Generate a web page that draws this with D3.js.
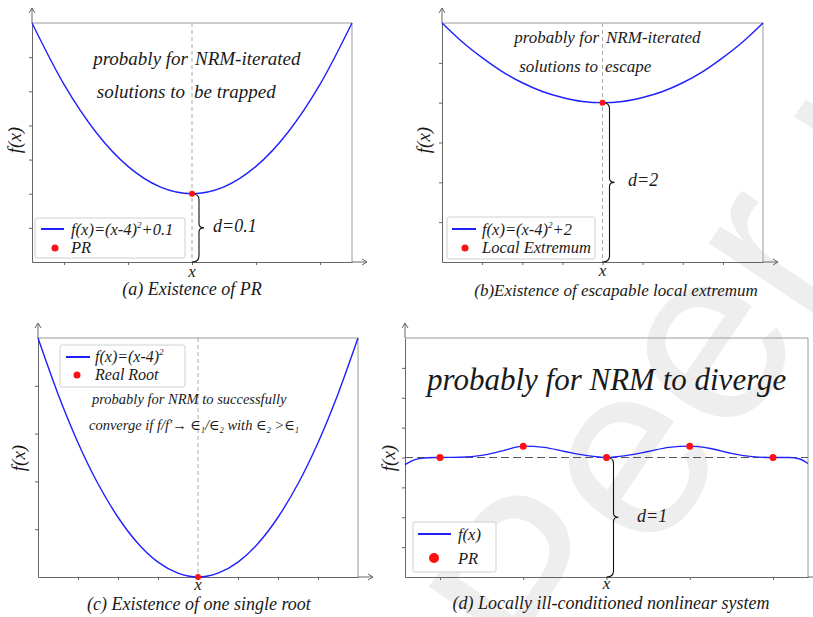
<!DOCTYPE html>
<html>
<head>
<meta charset="utf-8">
<script src="https://cdn.jsdelivr.net/npm/d3@7"></script>
<style>
  body { margin: 0; background: #fff; }
  svg { display: block; }
  text { font-family: "Liberation Serif", "DejaVu Serif", serif; font-style: italic; fill: #1a1a1a; }
</style>
</head>
<body>
<div id="chart"></div>
<script>
// ---- data (y in axis units) ----
const xA = [1.5, 2, 2.5, 3, 3.5, 4, 4.5, 5, 5.5, 6, 6.5];
const yA = [7, 5.2, 3.8, 2.8, 2.2, 2, 2.2, 2.8, 3.8, 5.2, 7];
const xB = [0, 0.5, 1, 1.5, 2, 2.5, 3, 3.5, 4, 4.5, 5, 5.5, 6, 6.5, 7, 7.5, 8];
const yB = [6, 5.53, 5.13, 4.78, 4.5, 4.28, 4.13, 4.03, 4, 4.03, 4.13, 4.28, 4.5, 4.78, 5.13, 5.53, 6];
const xC = [0, 0.5, 1, 1.5, 2, 2.5, 3, 3.5, 4, 4.5, 5, 5.5, 6, 6.5, 7, 7.5, 8];
const yC = [5, 3.83, 2.81, 1.95, 1.25, 0.7, 0.31, 0.08, 0, 0.08, 0.31, 0.7, 1.25, 1.95, 2.81, 3.83, 5];
const xD = [0.58, 0.7, 0.85, 1, 1.25, 1.5, 1.75, 2, 2.25, 2.5, 2.75, 3, 3.25, 3.5, 3.75, 4, 4.25, 4.5, 4.75, 5, 5.2, 5.32, 5.42];
const yD = [3.76, 3.93, 3.99, 4, 4.01, 4.07, 4.22, 4.38, 4.34, 4.2, 4.07, 4, 4.07, 4.2, 4.34, 4.38, 4.3, 4.14, 4.03, 4, 4, 3.95, 3.8];
const dotsXD = [1, 2, 3, 4, 5];
const dotsYD = [4, 4.38, 4, 4.38, 4];
const captions = ['(a) Existence of PR', '(b)Existence of escapable local extremum',
                  '(c) Existence of one single root', '(d) Locally ill-conditioned nonlinear system'];
const legendLabels = [['f(x)=(x-4)', '2', '+0.1'], ['f(x)=(x-4)', '2', '+2'], ['f(x)=(x-4)', '2', ''], ['f(x)', '', '']];
const markerLabels = ['PR', 'Local Extremum', 'Real Root', 'PR'];
const gapLabels = ['d=0.1', 'd=2', null, 'd=1'];

const blue = '#2020ff', red = '#ff1010';

const svg = d3.select('#chart').append('svg').attr('width', 813).attr('height', 617);

// faint watermark
svg.append('text')
  .attr('transform', 'translate(560,700) rotate(-56)')
  .style('font-family', '"Liberation Sans", sans-serif')
  .style('font-style', 'normal')
  .style('font-size', '250px')
  .style('fill', '#eeeeee')
  .text('Peer review');

const panels = [
  { left: 32, right: 352, top: 23, bottom: 262, xDom: [1.5, 6.5], yDom: [0, 7], xTicks: [2, 3, 4, 5, 6], yTicks: [1, 2, 3, 4, 5, 6],
    xs: xA, ys: yA, dotsX: [4], dotsY: [2], dotR: 3, vline: 4, brace: [4, 2, 0],
    legend: { x: 35, y: 218, w: 150, h: 40, lineY: 229, line: [41, 64], tx: 71, t1: 235, t2: 253, dot: [55, 248], r: 3.5, fs: 16.5 },
    gapPos: [213, 232], yLab: [21, 140], xLab: [4, 277], cap: [192, 295, 18] },
  { left: 442, right: 763, top: 23, bottom: 262, xDom: [0, 8], yDom: [0, 6], xTicks: [1, 2, 3, 4, 5, 6, 7], yTicks: [1, 2, 3, 4, 5],
    xs: xB, ys: yB, dotsX: [4], dotsY: [4], dotR: 3, vline: 4, brace: [4, 4, 0],
    legend: { x: 447, y: 217, w: 148, h: 42, lineY: 229, line: [452, 476], tx: 482, t1: 235, t2: 253, dot: [465, 248], r: 3.5, fs: 16.5 },
    gapPos: [628, 186], yLab: [430, 140], xLab: [4, 276], cap: [616, 296, 17] },
  { left: 38, right: 358, top: 338, bottom: 577, xDom: [0, 8], yDom: [0, 5], xTicks: [1, 2, 3, 4, 5, 6, 7], yTicks: [1, 2, 3, 4],
    xs: xC, ys: yC, dotsX: [4], dotsY: [0], dotR: 3, vline: 4, brace: null,
    legend: { x: 60, y: 345, w: 125, h: 42, lineY: 357, line: [66, 90], tx: 95, t1: 362, t2: 380, dot: [77, 375], r: 3.5, fs: 16 },
    gapPos: null, yLab: [25, 458], xLab: [4, 590], cap: [199, 610, 18] },
  { left: 405, right: 808, top: 338, bottom: 577, xDom: [0.58, 5.42], yDom: [0, 8], xTicks: [1, 2, 3, 4, 5], yTicks: [1, 2, 3, 4, 5, 6, 7],
    xs: xD, ys: yD, dotsX: dotsXD, dotsY: dotsYD, dotR: 3.5, vline: null, hline: 4, brace: [3, 4, 0],
    legend: { x: 413, y: 522, w: 83, h: 50, lineY: 534, line: [418, 451], tx: 458, t1: 540, t2: 564, dot: [434, 558], r: 5, fs: 16.5 },
    gapPos: [637, 522], yLab: [395, 458], xLab: [3, 589], cap: [611, 609, 18] }
];

panels.forEach((p, i) => {
  const g = svg.append('g');
  const x = d3.scaleLinear().domain(p.xDom).range([p.left, p.right]);
  const y = d3.scaleLinear().domain(p.yDom).range([p.bottom, p.top]);

  // frame (top + right)
  g.append('path')
    .attr('d', `M${p.left},${p.top}H${p.right}V${p.bottom}`)
    .attr('fill', 'none').attr('stroke', '#9a9a9a').attr('stroke-width', 1);

  // axes
  const xAxis = g.append('g').attr('transform', `translate(0,${p.bottom})`)
    .call(d3.axisBottom(x).tickValues(p.xTicks).tickSize(3).tickSizeOuter(0).tickFormat(''));
  const yAxis = g.append('g').attr('transform', `translate(${p.left},0)`)
    .call(d3.axisLeft(y).tickValues(p.yTicks).tickSize(3).tickSizeOuter(0).tickFormat(''));
  [xAxis, yAxis].forEach(a => a.selectAll('path,line').attr('stroke', '#666'));

  // arrows
  g.append('path')
    .attr('d', `M${p.left},${p.top}V${p.top - 15}M${p.left - 3},${p.top - 10}L${p.left},${p.top - 15}L${p.left + 3},${p.top - 10}` +
               `M${p.right},${p.bottom}H${p.right + 15}M${p.right + 10},${p.bottom - 3}L${p.right + 15},${p.bottom}L${p.right + 10},${p.bottom + 3}`)
    .attr('fill', 'none').attr('stroke', '#666').attr('stroke-width', 1);

  // reference lines
  if (p.vline != null) {
    g.append('line')
      .attr('x1', x(p.vline)).attr('x2', x(p.vline)).attr('y1', p.top).attr('y2', p.bottom)
      .attr('stroke', '#aaa').attr('stroke-dasharray', '4,3');
  }
  if (p.hline != null) {
    g.append('line')
      .attr('x1', p.left).attr('x2', p.right).attr('y1', y(p.hline)).attr('y2', y(p.hline))
      .attr('stroke', '#555').attr('stroke-dasharray', '8,4');
  }

  // curve
  const pts = p.xs.map((v, k) => [v, p.ys[k]]);
  g.append('path')
    .attr('d', d3.line().x(d => x(d[0])).y(d => y(d[1])).curve(d3.curveMonotoneX)(pts))
    .attr('fill', 'none').attr('stroke', blue).attr('stroke-width', 1.4);

  // brace
  if (p.brace) {
    const x0 = x(p.brace[0]), y1 = y(p.brace[1]), y2 = y(p.brace[2]), ym = (y1 + y2) / 2;
    g.append('path')
      .attr('d', `M${x0},${y1}C${x0 + 5},${y1} ${x0 + 7},${y1 + 2} ${x0 + 7},${y1 + 6}` +
                 `L${x0 + 7},${ym - 4}C${x0 + 7},${ym - 1} ${x0 + 9},${ym} ${x0 + 12},${ym}` +
                 `C${x0 + 9},${ym} ${x0 + 7},${ym + 1} ${x0 + 7},${ym + 4}` +
                 `L${x0 + 7},${y2 - 6}C${x0 + 7},${y2 - 2} ${x0 + 5},${y2} ${x0},${y2}`)
      .attr('fill', 'none').attr('stroke', '#111').attr('stroke-width', 1.1);
  }

  // dots
  g.selectAll('circle.pt').data(p.dotsX).join('circle').attr('class', 'pt')
    .attr('cx', d => x(d)).attr('cy', (d, k) => y(p.dotsY[k])).attr('r', p.dotR).attr('fill', red);

  // legend
  const L = p.legend;
  g.append('rect').attr('x', L.x).attr('y', L.y).attr('width', L.w).attr('height', L.h).attr('rx', 2)
    .attr('fill', '#fff').attr('stroke', '#d0d0d0');
  g.append('line').attr('x1', L.line[0]).attr('x2', L.line[1]).attr('y1', L.lineY).attr('y2', L.lineY)
    .attr('stroke', blue).attr('stroke-width', 2);
  const lt = g.append('text').attr('x', L.tx).attr('y', L.t1).style('font-size', L.fs + 'px');
  const lab = legendLabels[i];
  lt.append('tspan').text(lab[0]);
  if (lab[1]) {
    lt.append('tspan').attr('dy', -7).style('font-size', '9px').text(lab[1]);
    lt.append('tspan').attr('dy', 7).text(lab[2]);
  }
  g.append('circle').attr('cx', L.dot[0]).attr('cy', L.dot[1]).attr('r', L.r).attr('fill', red);
  g.append('text').attr('x', L.tx).attr('y', L.t2).style('font-size', L.fs + 'px').text(markerLabels[i]);

  // d= label
  if (p.gapPos) {
    g.append('text').attr('x', p.gapPos[0]).attr('y', p.gapPos[1]).style('font-size', '18px').text(gapLabels[i]);
  }

  // axis labels and caption
  g.append('text').attr('transform', `translate(${p.yLab[0]},${p.yLab[1]}) rotate(-90)`)
    .attr('text-anchor', 'middle').style('font-size', '19px').text('f(x)');
  g.append('text').attr('x', x(p.xLab[0])).attr('y', p.xLab[1])
    .attr('text-anchor', 'middle').style('font-size', '17px').text('x');
  g.append('text').attr('x', p.cap[0]).attr('y', p.cap[1])
    .attr('text-anchor', 'middle').style('font-size', p.cap[2] + 'px').text(captions[i]);
});

// annotations inside the panels
function note(xp, yp, size, anchor, str) {
  return svg.append('text').attr('x', xp).attr('y', yp).attr('text-anchor', anchor)
    .style('font-size', size + 'px').text(str);
}
note(188, 65, 19, 'end', 'probably for');
note(195, 65, 19, 'start', 'NRM-iterated');
note(185, 98, 19, 'end', 'solutions to');
note(194, 98, 19, 'start', 'be trapped');

note(599, 43, 17, 'end', 'probably for');
note(606, 43, 17, 'start', 'NRM-iterated');
note(598, 72, 17, 'end', 'solutions to');
note(605, 72, 17, 'start', 'escape');

note(92, 404, 14.5, 'start', 'probably for NRM to successfully');
const c2 = note(89, 430, 14.5, 'start', 'converge if f/f\u2032\u2192  \u2208');
[['1', '/\u2208'], ['2', ' with \u2208'], ['2', ' >\u2208'], ['1', '']].forEach(([sub, rest]) => {
  c2.append('tspan').attr('dy', 3).style('font-size', '8px').text(sub);
  c2.append('tspan').attr('dy', -3).text(rest);
});

note(427, 390, 31, 'start', 'probably for NRM to diverge');
</script>
</body>
</html>
